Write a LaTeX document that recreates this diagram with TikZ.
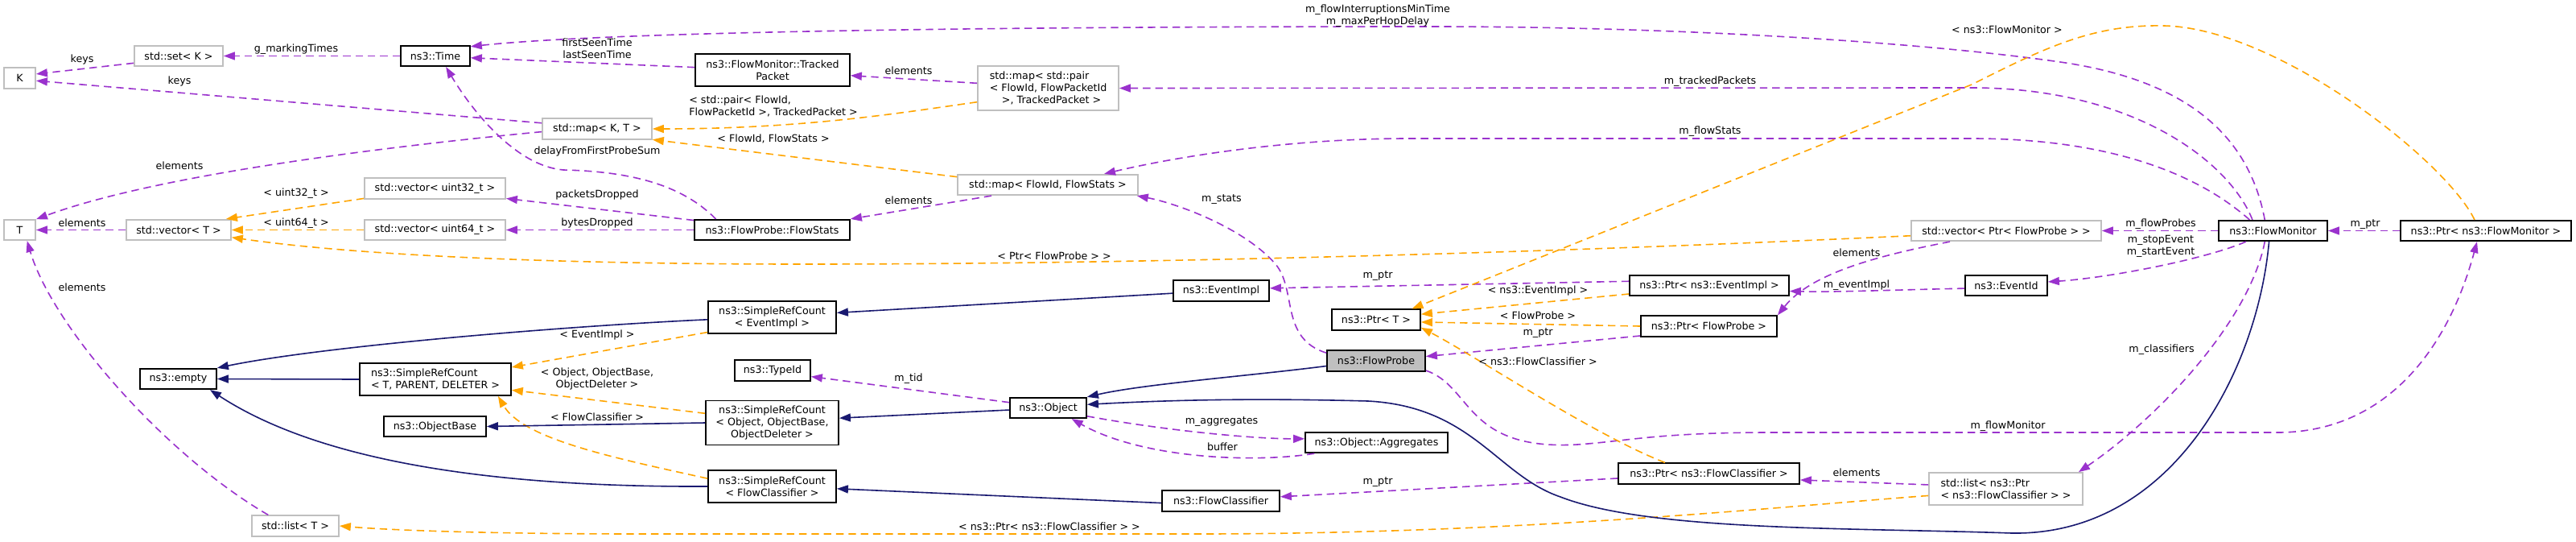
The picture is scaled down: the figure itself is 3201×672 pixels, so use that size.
\documentclass[tikz,border=0pt]{standalone}
\usepackage{fontspec}
\setmainfont{DejaVu Sans}
\usetikzlibrary{arrows.meta}
\definecolor{orchid}{HTML}{9A32CD}
\definecolor{tmplorange}{HTML}{FFA500}
\definecolor{navy}{HTML}{191970}
\definecolor{grey75}{HTML}{BFBFBF}
\begin{document}
\begin{tikzpicture}[
  x=0.75pt, y=-0.75pt,
  cls/.style={draw=black, fill=white, line width=1.3pt, inner sep=0pt, minimum height=19.1pt, font=\fontsize{9.5}{11.25}\selectfont, align=center},
  ext/.style={cls, draw=grey75},
  cur/.style={cls, fill=grey75},
  two/.style={minimum height=30pt},
  three/.style={minimum height=41.3pt},
  member/.style={draw=orchid, line width=1.2pt, dash pattern=on 7pt off 4.5pt, -{Triangle[length=10.5pt, width=7.5pt]}},
  tmpl/.style={member, draw=tmplorange},
  inherit/.style={draw=navy, line width=1.2pt, -{Triangle[length=10.5pt, width=7.5pt]}},
  lbl/.style={font=\fontsize{9.5}{11.25}\selectfont, text=black, align=center, inner sep=0pt}
]
\fill[white] (0,0) rectangle (3201,672);
\useasboundingbox (0,0) rectangle (3201,672);
\node[ext, minimum width=29.3pt] (K) at (24.5,97) {K};
\node[ext, minimum width=82.5pt] (setK) at (222,69.5) {std::set< K >};
\node[cls, minimum width=64.5pt] (time) at (541,69.5) {ns3::Time};
\node[ext, minimum width=102pt] (mapKT) at (742,160) {std::map< K, T >};
\node[ext, minimum width=29.3pt] (T) at (24.5,285.5) {T};
\node[ext, minimum width=97.5pt] (vecT) at (222,285.5) {std::vector< T >};
\node[ext, minimum width=131.3pt] (vec32) at (540.5,234) {std::vector< uint32\_t >};
\node[ext, minimum width=131.3pt] (vec64) at (540.5,285.5) {std::vector< uint64\_t >};
\node[cls, minimum width=71.3pt] (empty) at (221.5,470.5) {ns3::empty};
\node[cls, two, minimum width=141pt, align=left] (srcTPD) at (541,471) {ns3::SimpleRefCount\\< T, PARENT, DELETER >};
\node[cls, minimum width=95.3pt] (objBase) at (540.5,529.5) {ns3::ObjectBase};
\node[ext, minimum width=81pt] (listT) at (367,653) {std::list< T >};
\node[cls, two, minimum width=144pt] (tracked) at (960,87) {ns3::FlowMonitor::Tracked\\Packet};
\node[ext, three, minimum width=131.3pt, align=left] (mapPair) at (1302.5,109.5) {std::map< std::pair\\< FlowId, FlowPacketId\\\hspace*{1.2em}>, TrackedPacket >};
\node[ext, minimum width=168pt] (mapFS) at (1302,229.5) {std::map< FlowId, FlowStats >};
\node[cls, minimum width=144.8pt] (flowStats) at (959.5,285.5) {ns3::FlowProbe::FlowStats};
\node[cls, minimum width=89.3pt] (eventImpl) at (1517.5,361) {ns3::EventImpl};
\node[cls, two, minimum width=119.3pt] (srcEI) at (959.5,394) {ns3::SimpleRefCount\\< EventImpl >};
\node[cls, minimum width=70.5pt] (typeId) at (960,460) {ns3::TypeId};
\node[cls, three, minimum width=123.8pt] (srcObj) at (959.5,525) {ns3::SimpleRefCount\\< Object, ObjectBase,\\ObjectDeleter >};
\node[cls, minimum width=71.3pt] (object) at (1302.5,506.5) {ns3::Object};
\node[cls, two, minimum width=119.3pt] (srcFC) at (959.5,604) {ns3::SimpleRefCount\\< FlowClassifier >};
\node[cls, minimum width=109.5pt] (classifier) at (1517,622) {ns3::FlowClassifier};
\node[cls, minimum width=148.5pt] (ptrEI) at (2124,354.5) {ns3::Ptr< ns3::EventImpl >};
\node[cls, minimum width=82.5pt] (ptrT) at (1710,397) {ns3::Ptr< T >};
\node[cls, minimum width=126.8pt] (ptrFP) at (2123.5,405) {ns3::Ptr< FlowProbe >};
\node[cur, minimum width=91.5pt] (probe) at (1710,448) {ns3::FlowProbe};
\node[cls, minimum width=132.8pt] (aggr) at (1710.5,549.5) {ns3::Object::Aggregates};
\node[cls, minimum width=168.8pt] (ptrFC) at (2123.5,588) {ns3::Ptr< ns3::FlowClassifier >};
\node[ext, minimum width=177pt] (vecPtrFP) at (2493,286.5) {std::vector< Ptr< FlowProbe > >};
\node[cls, minimum width=101.3pt] (monitor) at (2824.5,286.5) {ns3::FlowMonitor};
\node[cls, minimum width=159pt] (ptrFM) at (3089,286.5) {ns3::Ptr< ns3::FlowMonitor >};
\node[cls, minimum width=76.5pt] (eventId) at (2493,354.5) {ns3::EventId};
\node[ext, two, minimum width=143.3pt, align=left] (listPtrFC) at (2492.5,607) {std::list< ns3::Ptr\\< ns3::FlowClassifier > >};
\draw[member] (setK.189) -- (K.14) node[lbl] at (102,74) {keys};
\draw[member] (mapKT.174) -- (K.-9) node[lbl] at (223,101) {keys};
\draw[member] (mapKT.183) .. controls (500,180) and (200,215) .. (T.33) node[lbl] at (223,206) {elements};
\draw[member] (vecT.west) -- (T.east) node[lbl] at (102,277) {elements};
\draw[member] (listT.158) .. controls (205,565) and (65,405) .. (T.-56) node[lbl] at (102,357) {elements};
\draw[member] (time.west) -- (setK.east) node[lbl] at (368,61) {g\_markingTimes};
\draw[member] (tracked.178) -- (time.-3) node[lbl] at (742,60.5) {firstSeenTime\\lastSeenTime};
\draw[member] (monitor.127) .. controls (2795,170) and (2720,100) .. (2560,77) .. controls (2400,54) and (2100,33) .. (1777,33) .. controls (1200,33) and (750,40) .. (time.15) node[lbl] at (1712,19.5) {m\_flowInterruptionsMinTime\\m\_maxPerHopDelay};
\draw[member] (flowStats.169) .. controls (850,232) and (790,213) .. (700,211) .. controls (640,206) and (585,135) .. (time.-46) node[lbl] at (742,188) {delayFromFirstProbeSum};
\draw[member] (mapPair.176) -- (tracked.-4) node[lbl] at (1129,88) {elements};
\draw[member] (mapFS.191) -- (flowStats.north east) node[lbl] at (1129,249) {elements};
\draw[member] (flowStats.173) -- (vec32.-8) node[lbl] at (742,242) {packetsDropped};
\draw[member] (flowStats.west) -- (vec64.east) node[lbl] at (742,277) {bytesDropped};
\draw[member] (monitor.152) .. controls (2770,200) and (2650,109) .. (2450,109) -- (mapPair.east) node[lbl] at (2125,101) {m\_trackedPackets};
\draw[member] (monitor.155) .. controls (2730,215) and (2620,172) .. (2450,172) -- (1750,172) .. controls (1600,172) and (1460,195) .. (mapFS.11) node[lbl] at (2125,163) {m\_flowStats};
\draw[member] (probe.171) .. controls (1590,420) and (1612,360) .. (1585,328) .. controls (1545,282) and (1460,252) .. (mapFS.-7) node[lbl] at (1518,248) {m\_stats};
\draw[member] (monitor.west) -- (vecPtrFP.east) node[lbl] at (2685,278) {m\_flowProbes};
\draw[member] (ptrFM.west) -- (monitor.east) node[lbl] at (2939,279) {m\_ptr};
\draw[member] (monitor.202) .. controls (2740,322) and (2620,345) .. (eventId.5) node[lbl] at (2685,306) {m\_stopEvent\\m\_startEvent};
\draw[member] (eventId.184) .. controls (2350,360) and (2280,363) .. (ptrEI.-4) node[lbl] at (2307,354) {m\_eventImpl};
\draw[member] (vecPtrFP.191) .. controls (2330,318) and (2250,340) .. (ptrFP.north east) node[lbl] at (2307,314) {elements};
\draw[member] (listPtrFC.177) -- (ptrFC.-4) node[lbl] at (2307,587) {elements};
\draw[member] (monitor.233) .. controls (2795,400) and (2680,520) .. (listPtrFC.13) node[lbl] at (2686,434) {m\_classifiers};
\draw[member] (probe.-11) .. controls (1830,480) and (1820,560) .. (1960,552) .. controls (2020,548) and (2060,537) .. (2200,537) -- (2830,537) .. controls (2960,537) and (3040,440) .. (ptrFM.231) node[lbl] at (2495,529) {m\_flowMonitor};
\draw[member] (object.172) -- (typeId.-9) node[lbl] at (1129,470) {m\_tid};
\draw[member] (object.-12) .. controls (1450,535) and (1560,545) .. (aggr.177) node[lbl] at (1518,524) {m\_aggregates};
\draw[member] (aggr.190) .. controls (1560,575) and (1420,570) .. (object.-25) node[lbl] at (1519,555) {buffer};
\draw[member] (ptrEI.177) -- (eventImpl.3) node[lbl] at (1712,343) {m\_ptr};
\draw[member] (ptrFP.188) -- (probe.5) node[lbl] at (1911,414) {m\_ptr};
\draw[member] (ptrFC.183) -- (classifier.4) node[lbl] at (1712,599) {m\_ptr};
\draw[tmpl] (mapPair.191) .. controls (1120,140) and (1000,160) .. (mapKT.east) node[lbl, align=left] at (961,132) {< std::pair< FlowId,\\FlowPacketId >, TrackedPacket >};
\draw[tmpl] (mapFS.175) -- (mapKT.-11) node[lbl] at (961,172) {< FlowId, FlowStats >};
\draw[tmpl] (vec32.188) -- (vecT.13) node[lbl] at (368,240) {< uint32\_t >};
\draw[tmpl] (vec64.west) -- (vecT.east) node[lbl] at (368,277) {< uint64\_t >};
\draw[tmpl] (vecPtrFP.183) .. controls (1900,315) and (1400,328) .. (1000,328) .. controls (700,328) and (450,318) .. (vecT.-8) node[lbl] at (1310,318) {< Ptr< FlowProbe > >};
\draw[tmpl] (srcEI.193) -- (srcTPD.9) node[lbl] at (742,416) {< EventImpl >};
\draw[tmpl] (srcObj.172) -- (srcTPD.-8) node[lbl] at (742,470.5) {< Object, ObjectBase,\\ObjectDeleter >};
\draw[tmpl] (srcFC.173) .. controls (760,568) and (650,545) .. (srcTPD.-15) node[lbl] at (742,518) {< FlowClassifier >};
\draw[tmpl] (ptrEI.186) -- (ptrT.7) node[lbl] at (1911,361) {< ns3::EventImpl >};
\draw[tmpl] (ptrFP.west) -- (ptrT.-3) node[lbl] at (1911,392) {< FlowProbe >};
\draw[tmpl] (ptrFC.166) .. controls (1980,540) and (1830,440) .. (ptrT.-10) node[lbl] at (1911,449) {< ns3::FlowClassifier >};
\draw[tmpl] (ptrFM.136) .. controls (3040,200) and (2830,35) .. (2689,32) .. controls (2600,30) and (2540,60) .. (2450,105) -- (ptrT.17) node[lbl] at (2494,37) {< ns3::FlowMonitor >};
\draw[tmpl] (listPtrFC.185) .. controls (2200,630) and (1900,662) .. (1500,663) -- (800,663) .. controls (600,663) and (480,658) .. (listT.east) node[lbl] at (1304,654) {< ns3::Ptr< ns3::FlowClassifier > >};
\draw[inherit] (eventImpl.183) -- (srcEI.4);
\draw[inherit] (object.183) -- (srcObj.4);
\draw[inherit] (classifier.182) -- (srcFC.-2);
\draw[inherit] (srcEI.182) .. controls (700,405) and (400,430) .. (empty.north east);
\draw[inherit] (srcTPD.west) -- (empty.east);
\draw[inherit] (srcFC.west) .. controls (620,605) and (400,575) .. (empty.-19);
\draw[inherit] (srcObj.west) -- (objBase.east);
\draw[inherit] (probe.186) .. controls (1550,467) and (1420,477) .. (object.north east);
\draw[inherit] (monitor.-110) .. controls (2805,460) and (2700,665) .. (2500,662) .. controls (2300,655) and (2050,660) .. (1939,617) .. controls (1860,590) and (1830,505) .. (1700,498) .. controls (1550,494) and (1450,497) .. (object.5);
\end{tikzpicture}
\end{document}
